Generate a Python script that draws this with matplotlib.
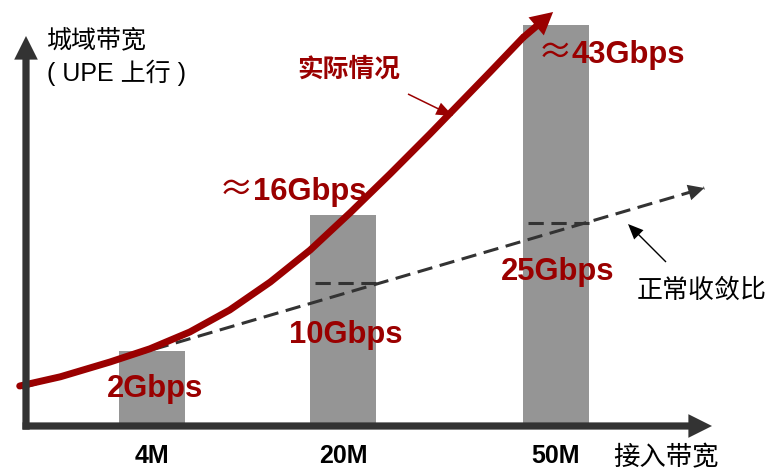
"""Access bandwidth vs. metro bandwidth (UPE uplink), schematic bar chart."""

import matplotlib

matplotlib.use("Agg")
import matplotlib.pyplot as plt
from matplotlib.patches import FancyArrowPatch

# --- data (schematic drawing units, 0-100 on both axes) ---
CATEGORIES = ["4M", "20M", "50M"]
BAR_HEIGHT = [18.75, 52.75, 100.25]
BAR_LABELS = ["2Gbps", "16Gbps", "43Gbps"]
NORMAL_LEVEL = [35.75, 50.75]          # dashed marks on the 20M and 50M bars
NORMAL_LABELS = ["10Gbps", "25Gbps"]

# "实际情况" curve
REAL_X = [-0.9, 4.9, 12.0, 17.7, 23.4, 29.1, 34.9, 40.6, 46.3, 52.0, 57.7, 62.0, 66.3, 71.0, 75.3]
REAL_Y = [10.0, 12.3, 16.0, 19.3, 23.5, 29.0, 36.0, 44.0, 53.3, 63.0, 73.0, 80.75, 88.5, 97.1, 103.5]

# "正常收敛比" straight trend
TREND_X = [-0.6, 96.9]
TREND_Y = [9.5, 59.5]

# --- layout / style ---
X_POS = [18.0, 45.3, 75.7]
BAR_WIDTH = 9.43
GREY = "#959595"
RED = "#9a0000"
DARK = "#333333"
CJK = ["Noto Sans CJK SC", "DejaVu Sans"]
LATIN = ["Liberation Sans", "Noto Sans CJK SC"]


def arrow(ax, start, end, color, tail, head_len, head_w, z):
    style = f"simple,head_length={head_len},head_width={head_w},tail_width={tail}"
    patch = FancyArrowPatch(
        start, end, arrowstyle=style, mutation_scale=1, color=color,
        lw=0, shrinkA=0, shrinkB=0, zorder=z, clip_on=False,
    )
    ax.add_patch(patch)


fig = plt.figure(figsize=(7.69, 4.73), dpi=100)
ax = fig.add_axes([26 / 769, 47 / 473, 700 / 769, 400 / 473])
ax.set_xlim(0, 100)
ax.set_ylim(0, 100)
for spine in ax.spines.values():
    spine.set_visible(False)
ax.set_yticks([])
ax.set_xticks(X_POS, CATEGORIES)
for lab in ax.get_xticklabels():
    lab.set_fontsize(18)
    lab.set_fontweight("bold")
    lab.set_family(LATIN)
ax.tick_params(axis="x", length=0, pad=13)

# bars
ax.bar(X_POS, BAR_HEIGHT, width=BAR_WIDTH, color=GREY, zorder=1, clip_on=False)

# normal-ratio marks on bars
for xc, level in zip(X_POS[1:], NORMAL_LEVEL):
    ax.hlines(level, xc - BAR_WIDTH / 2 + 0.7, xc + BAR_WIDTH / 2,
              color=DARK, lw=2.2, linestyles=(0, (5, 2.5)), zorder=3)

# trend line with head
ax.plot(TREND_X, TREND_Y, color=DARK, lw=2.2, linestyle=(0, (5, 2.5)),
        zorder=3, clip_on=False)
arrow(ax, (TREND_X[0], TREND_Y[0]), (TREND_X[1], TREND_Y[1]), DARK, 0.01, 11.5, 11.5, 3)

# actual curve with head
ax.plot(REAL_X[:-1], REAL_Y[:-1], color=RED, lw=5, solid_capstyle="round",
        solid_joinstyle="round", zorder=4, clip_on=False)
arrow(ax, (REAL_X[-2], REAL_Y[-2]), (REAL_X[-1], REAL_Y[-1]), RED, 5, 16, 17, 4)

# axes arrows
arrow(ax, (0, -0.9), (0, 97.5), DARK, 5.2, 17, 17, 6)
arrow(ax, (-0.5, 0), (98.0, 0), DARK, 5.2, 17, 17, 6)

# axis titles
ax.text(3.0, 96.5, "城域带宽", fontsize=18, ha="left", va="center",
        family=CJK, weight="light", zorder=5)
ax.text(3.0, 88.25, "( UPE 上行 )", fontsize=18, ha="left", va="center",
        family=LATIN, zorder=5)
ax.text(91.36, -8.0, "接入带宽", fontsize=19, ha="center", va="center",
        family=CJK, weight="light", clip_on=False, zorder=5)

# value labels
big = dict(fontsize=22.3, fontweight="bold", family=LATIN, color=RED,
           va="baseline", zorder=5)
ax.text(18.5, 7.25, BAR_LABELS[0], ha="center", **big)
ax.text(32.43, 56.5, BAR_LABELS[1], ha="left", **big)
ax.text(78.0, 90.75, BAR_LABELS[2], ha="left", **big)
for x, y in [(32.43, 56.5), (78.0, 90.75)]:
    ax.text(x, y, "≈", fontsize=25, family=CJK, color=RED, ha="right",
            va="baseline", zorder=5)
ax.text(45.64, 20.75, NORMAL_LABELS[0], ha="center", **big)
ax.text(76.0, 36.5, NORMAL_LABELS[1], ha="center", **big)

# callouts
ax.text(46.07, 89.25, "实际情况", fontsize=18.5, color=RED, ha="center",
        va="center", family=CJK, weight="bold", zorder=5)
arrow(ax, (54.57, 83.0), (61.0, 77.5), RED, 1.1, 12, 9.5, 5)
ax.text(96.57, 34.0, "正常收敛比", fontsize=18.7, color="black", ha="center",
        va="center", family=CJK, weight="light", clip_on=False, zorder=5)
arrow(ax, (91.43, 41.0), (86.0, 50.5), "black", 1.0, 11, 9.5, 5)

fig.savefig("out.png", dpi=100)
plt.close(fig)
